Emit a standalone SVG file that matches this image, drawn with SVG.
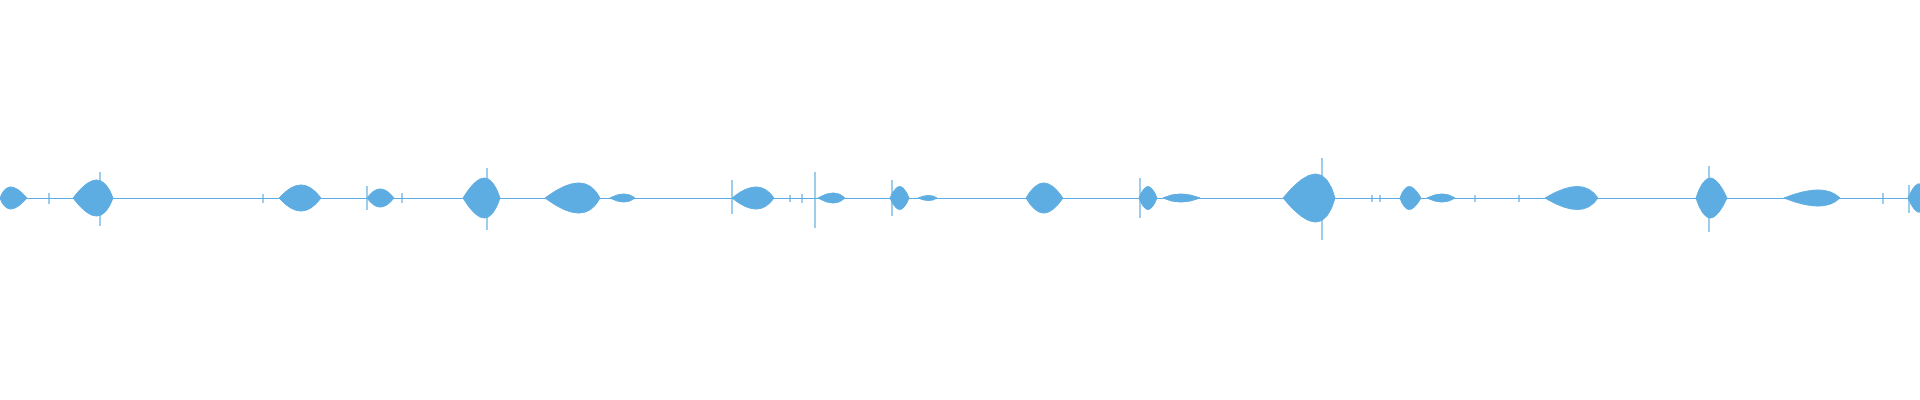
<svg xmlns="http://www.w3.org/2000/svg" width="1920" height="400" viewBox="0 0 1920 400">
<style>.b{fill:#5dade2;stroke:#5dade2;stroke-width:1}.s{stroke:#5dade2;stroke-width:1.2;fill:none}</style>
<rect width="1920" height="400" fill="#fff"/>
<g id="waveform">
<line class="s" x1="0" y1="198.5" x2="1920" y2="198.5"/>
<path class="b" d="M0,198 Q8,176 27,198 Q8,220 0,198Z"/>
<path class="b" d="M73,198 Q100,162 113,198 Q100,234 73,198Z"/>
<path class="b" d="M279,198 Q302,172 321,198 Q302,224 279,198Z"/>
<path class="b" d="M367,198 Q380,180 394,198 Q380,216 367,198Z"/>
<path class="b" d="M463,198 Q487,158 500,198 Q487,238 463,198Z"/>
<path class="b" d="M545,198 Q585,168 600,198 Q585,228 545,198Z"/>
<path class="b" d="M610,198 Q625,190 635,198 Q625,206 610,198Z"/>
<path class="b" d="M732,198 Q759,176 774,198 Q759,220 732,198Z"/>
<path class="b" d="M818,198 Q835,188 845,198 Q835,208 818,198Z"/>
<path class="b" d="M890,198 Q900,175 909,198 Q900,221 890,198Z"/>
<path class="b" d="M918,198 Q930,193 937,198 Q930,203 918,198Z"/>
<path class="b" d="M1026,198 Q1043,168 1063,198 Q1043,228 1026,198Z"/>
<path class="b" d="M1139,198 Q1148,175 1157,198 Q1148,221 1139,198Z"/>
<path class="b" d="M1163,198 Q1180,190 1200,198 Q1180,206 1163,198Z"/>
<path class="b" d="M1283,198 Q1322,150 1335,198 Q1322,246 1283,198Z"/>
<path class="b" d="M1400,198 Q1408,175 1421,198 Q1408,221 1400,198Z"/>
<path class="b" d="M1427,198 Q1443,190 1455,198 Q1443,206 1427,198Z"/>
<path class="b" d="M1545,198 Q1583,175 1598,198 Q1583,221 1545,198Z"/>
<path class="b" d="M1696,198 Q1709,158 1727,198 Q1709,238 1696,198Z"/>
<path class="b" d="M1784,198 Q1824,182 1840,198 Q1824,214 1784,198Z"/>
<path class="b" d="M1908,198 Q1915,182 1920,184 L1920,212 Q1915,214 1908,198Z"/>
<path class="s" d="M49,193V204M263,194V203M402,193V203M790,195V202M802,194V203M815,172V228M1372,195V202M1380,195V202M1475,195V202M1519,195V202M1883,193V204M100,172V226M487,168V230M1322,158V240M1709,166V232M892,180V216M1140,178V218M732,180V214M367,186V210M1909,185V213"/>
</g>
</svg>
